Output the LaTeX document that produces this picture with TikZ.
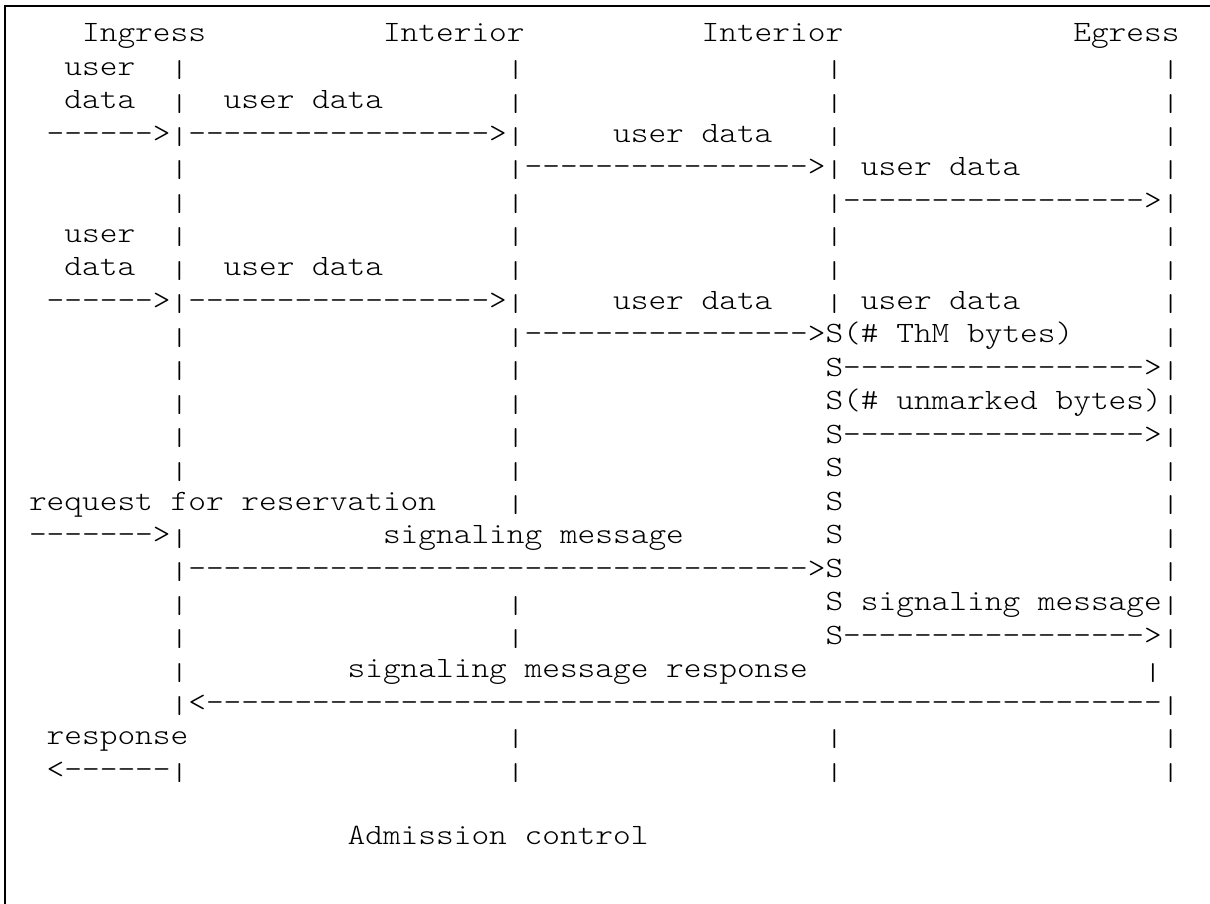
\documentclass[tikz,border=0pt]{standalone}
\usepackage{fontspec}
\usepackage{graphicx}
\newfontfamily\asciifont{lmmonolt10-regular.otf}[FakeStretch=1.1429,WordSpace={1,0,0}]
\newcommand\vb{\raisebox{-2.25pt}{\resizebox{\width}{9.5pt}{\raisebox{\depth}{|}}}}
\ExplSyntaxOn
\cs_new:Npn \dsh #1 { \prg_replicate:nn {#1} {-} }
\ExplSyntaxOff
\newcommand\tx[3]{\node[txt] (t-#1-#2) at ({29+17.7*#2},{41.7+33.47*#1}) {#3};}
\newcommand\pp[2]{\tx{#1}{#2}{\vb}}
\begin{document}
\begin{tikzpicture}[x=0.5pt,y=-0.5pt,
  txt/.style={anchor=base west,inner sep=0pt,outer sep=0pt,text=black,
    font=\asciifont\fontsize{14.75pt}{16pt}\selectfont},
  frame/.style={line width=1pt,draw=black}]
\fill[white] (0,0) rectangle (1210,904);
\useasboundingbox (0,0) rectangle (1210,904);
\draw[frame] (5,904) -- (5,6) -- (1210,6);
% row 0
\tx{0}{3}{Ingress}\tx{0}{20}{Interior}\tx{0}{38}{Interior}\tx{0}{59}{Egress}
% row 1
\tx{1}{2}{user}\pp{1}{8}\pp{1}{27}\pp{1}{45}\pp{1}{64}
% row 2
\tx{2}{2}{data}\pp{2}{8}\tx{2}{11}{user data}\pp{2}{27}\pp{2}{45}\pp{2}{64}
% row 3
\tx{3}{1}{\dsh{6}>\vb\dsh{17}>\vb}\tx{3}{33}{user data}\pp{3}{45}\pp{3}{64}
% row 4
\pp{4}{8}\tx{4}{27}{\vb\dsh{16}>\vb}\tx{4}{47}{user data}\pp{4}{64}
% row 5
\pp{5}{8}\pp{5}{27}\tx{5}{45}{\vb\dsh{17}>\vb}
% row 6
\tx{6}{2}{user}\pp{6}{8}\pp{6}{27}\pp{6}{45}\pp{6}{64}
% row 7
\tx{7}{2}{data}\pp{7}{8}\tx{7}{11}{user data}\pp{7}{27}\pp{7}{45}\pp{7}{64}
% row 8
\tx{8}{1}{\dsh{6}>\vb\dsh{17}>\vb}\tx{8}{33}{user data}\pp{8}{45}\tx{8}{47}{user data}\pp{8}{64}
% row 9
\pp{9}{8}\tx{9}{27}{\vb\dsh{16}>S(\# ThM bytes)}\pp{9}{64}
% row 10
\pp{10}{8}\pp{10}{27}\tx{10}{45}{S\dsh{17}>\vb}
% row 11
\pp{11}{8}\pp{11}{27}\tx{11}{45}{S(\# unmarked bytes)\vb}
% row 12
\pp{12}{8}\pp{12}{27}\tx{12}{45}{S\dsh{17}>\vb}
% row 13
\pp{13}{8}\pp{13}{27}\tx{13}{45}{S}\pp{13}{64}
% row 14
\tx{14}{0}{request for reservation}\pp{14}{27}\tx{14}{45}{S}\pp{14}{64}
% row 15
\tx{15}{0}{\dsh{7}>\vb}\tx{15}{20}{signaling message}\tx{15}{45}{S}\pp{15}{64}
% row 16
\tx{16}{8}{\vb\dsh{35}>S}\pp{16}{64}
% row 17
\pp{17}{8}\pp{17}{27}\tx{17}{45}{S}\tx{17}{47}{signaling message\vb}
% row 18
\pp{18}{8}\pp{18}{27}\tx{18}{45}{S\dsh{17}>\vb}
% row 19
\pp{19}{8}\tx{19}{18}{signaling message response}\pp{19}{63}
% row 20
\tx{20}{8}{\vb<\dsh{54}\vb}
% row 21
\tx{21}{1}{response}\pp{21}{27}\pp{21}{45}\pp{21}{64}
% row 22
\tx{22}{1}{<\dsh{6}\vb}\pp{22}{27}\pp{22}{45}\pp{22}{64}
% row 24
\tx{24}{18}{Admission control}
\end{tikzpicture}
\end{document}
